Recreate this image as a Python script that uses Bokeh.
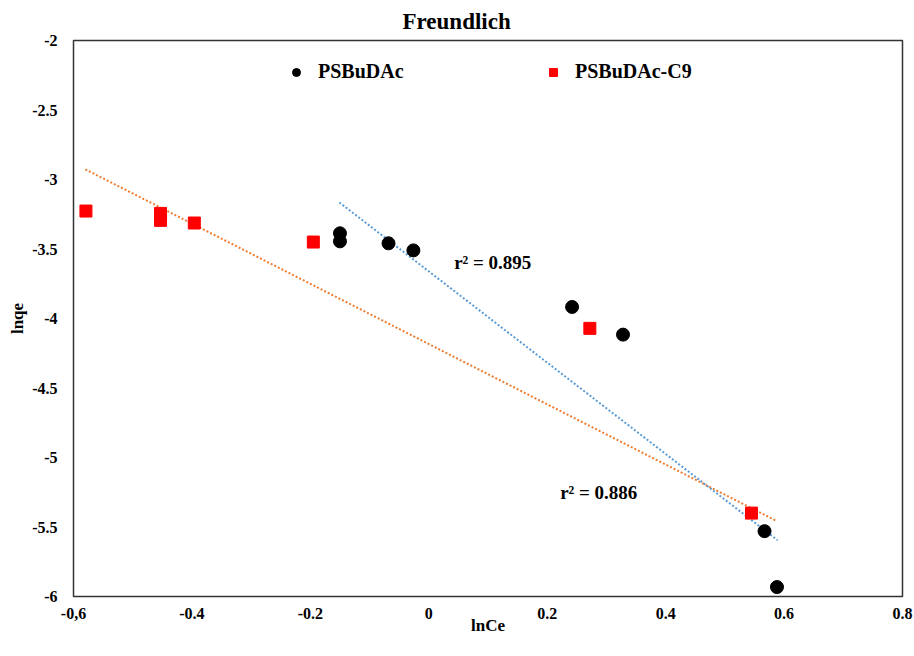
from bokeh.plotting import figure
from bokeh.models import Legend, LegendItem, FixedTicker, Range1d, Label
from bokeh.embed import file_html
from bokeh.resources import INLINE

# ---- data ----
ps_x = [-0.150, -0.150, -0.068, -0.026, 0.242, 0.328, 0.567, 0.588]
ps_y = [-3.387, -3.445, -3.459, -3.510, -3.917, -4.116, -5.530, -5.932]

c9_x = [-0.579, -0.453, -0.453, -0.396, -0.195, 0.272, 0.545]
c9_y = [-3.227, -3.244, -3.294, -3.313, -3.450, -4.071, -5.400]

trend_ps_x = [-0.151, 0.589]
trend_ps_y = [-3.165, -5.595]
trend_c9_x = [-0.580, 0.588]
trend_c9_y = [-2.927, -5.458]

r2_texts = ["r\u00b2 = 0.895", "r\u00b2 = 0.886"]

x_ticks = [-0.6, -0.4, -0.2, 0.0, 0.2, 0.4, 0.6, 0.8]
x_tick_labels = ["-0,6", "-0.4", "-0.2", "0", "0.2", "0.4", "0.6", "0.8"]
y_ticks = [-6.0, -5.5, -5.0, -4.5, -4.0, -3.5, -3.0, -2.5, -2.0]
y_tick_labels = ["-6", "-5.5", "-5", "-4.5", "-4", "-3.5", "-3", "-2.5", "-2"]

FONT = "Liberation Serif"

p = figure(width=914, height=656, output_backend="svg", toolbar_location=None,
           x_range=Range1d(-0.6, 0.8), y_range=Range1d(-6, -2),
           min_border_left=73, min_border_right=12, min_border_top=40,
           min_border_bottom=60, title="Freundlich")

p.title.text_font = FONT
p.title.text_font_style = "bold"
p.title.text_font_size = "23px"
p.title.align = "left"
p.title.offset = 329
p.title.text_color = "#000000"
p.title.standoff = 13

p.background_fill_color = "white"
p.border_fill_color = "white"
p.outline_line_color = "#333333"
p.outline_line_width = 1.5
p.xgrid.visible = False
p.ygrid.visible = False

for ax in (p.xaxis[0], p.yaxis[0]):
    ax.axis_line_color = None
    ax.major_tick_line_color = None
    ax.minor_tick_line_color = None
    ax.major_label_text_font = FONT
    ax.major_label_text_font_style = "bold"
    ax.major_label_text_font_size = "16px"
    ax.major_label_text_color = "#000000"
    ax.axis_label_text_font = FONT
    ax.axis_label_text_font_style = "bold"
    ax.axis_label_text_font_size = "17px"
    ax.axis_label_text_color = "#000000"

p.xaxis.ticker = FixedTicker(ticks=x_ticks)
p.xaxis.major_label_overrides = dict(zip(x_ticks, x_tick_labels))
p.xaxis.axis_label = "lnCe"
p.xaxis.major_label_standoff = 5
p.xaxis.axis_label_standoff = -6

p.yaxis.ticker = FixedTicker(ticks=y_ticks)
p.yaxis.major_label_overrides = dict(zip(y_ticks, y_tick_labels))
p.yaxis.axis_label = "lnqe"
p.yaxis.major_label_standoff = 10
p.yaxis.axis_label_standoff = 2

# trend lines
p.line(trend_c9_x, trend_c9_y, line_color="#ED7D31", line_width=2, line_dash="2 2")
p.line(trend_ps_x, trend_ps_y, line_color="#5B9BD5", line_width=2, line_dash="2 2")

# data
r_ps = p.scatter(ps_x, ps_y, marker="circle", size=13, fill_color="black", line_color="black")
r_c9 = p.scatter(c9_x, c9_y, marker="square", size=12, fill_color="#FF0000", line_color="#FF0000")

# r^2 labels
for txt, xx, yy in zip(r2_texts, [0.108, 0.287], [-3.596, -5.25]):
    p.add_layout(Label(x=xx, y=yy, text=txt, text_font=FONT, text_font_style="bold",
                       text_font_size="19px", text_align="center", text_baseline="middle",
                       text_color="black"))

# legends
for rend, lab, loc in ((r_ps, "PSBuDAc", (213, 513)), (r_c9, "PSBuDAc-C9", (470, 513))):
    lg = Legend(items=[LegendItem(label=lab, renderers=[rend])], location=loc,
                orientation="horizontal", padding=0, margin=0, border_line_color=None,
                background_fill_alpha=0, label_text_font=FONT, label_text_font_style="bold",
                label_text_font_size="20px", label_text_color="black",
                label_standoff=12, glyph_width=20, glyph_height=20, label_height=20)
    p.add_layout(lg, "center")

open("out.html", "w").write(file_html(p, INLINE))
